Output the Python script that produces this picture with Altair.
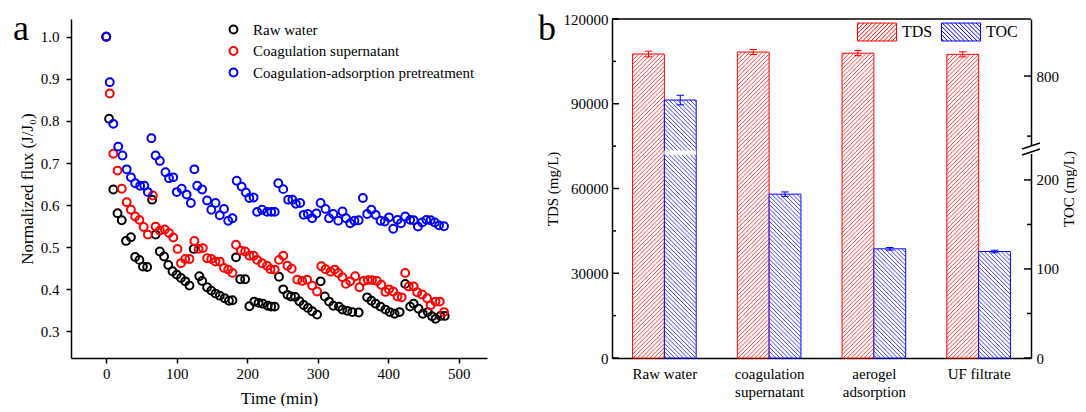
import math
import altair as alt
import pandas as pd

# ---------------- Panel a data ----------------
SERIES = ["Raw water", "Coagulation supernatant", "Coagulation-adsorption pretreatment"]
SERIES_COLORS = ["black", "red", "blue"]

RAW_T = [0, 4, 10, 16, 22, 28, 35, 41, 47, 52, 58, 65, 70, 76, 82, 88, 94, 100, 106, 112,
         118, 124, 132, 136, 143, 149, 155, 161, 168, 174, 179, 184, 190, 197, 203, 210, 216, 222, 229, 234,
         239, 245, 251, 257, 262, 268, 274, 280, 286, 292, 299, 304, 310, 316, 322, 330, 335, 342, 349, 358,
         370, 376, 382, 389, 396, 402, 409, 416, 424, 431, 436, 443, 449, 456, 462, 467, 474, 480]
RAW_V = [1.0, 0.805, 0.637, 0.581, 0.564, 0.515, 0.524, 0.477, 0.470, 0.454,
         0.453, 0.613, 0.530, 0.490, 0.478, 0.458, 0.443, 0.435, 0.427, 0.419,
         0.409, 0.496, 0.431, 0.420, 0.405, 0.397, 0.390, 0.385, 0.379, 0.373,
         0.374, 0.476, 0.424, 0.424, 0.360, 0.371, 0.368, 0.366, 0.361, 0.359,
         0.359, 0.430, 0.400, 0.387, 0.383, 0.382, 0.372, 0.363, 0.356, 0.348,
         0.340, 0.419, 0.383, 0.371, 0.361, 0.359, 0.352, 0.349, 0.346, 0.345,
         0.381, 0.373, 0.366, 0.359, 0.352, 0.346, 0.342, 0.346, 0.413, 0.359,
         0.366, 0.354, 0.342, 0.346, 0.336, 0.330, 0.337, 0.337]

COAG_T = [0, 5, 10, 16, 22, 29, 35, 41, 47, 53, 59, 66, 70, 76, 83, 89, 95, 101, 106, 112,
          118, 125, 131, 137, 143, 149, 155, 161, 167, 173, 179, 184, 191, 197, 203, 209, 214, 221, 228, 233,
          239, 245, 251, 257, 263, 271, 278, 285, 292, 299, 305, 311, 318, 324, 329, 335, 340, 346, 353, 359,
          365, 371, 377, 384, 390, 396, 401, 407, 413, 419, 424, 429, 436, 441, 448, 455, 460, 467, 473, 479]
COAG_V = [1.0, 0.865, 0.722, 0.682, 0.639, 0.607, 0.589, 0.573, 0.565, 0.548,
          0.530, 0.623, 0.549, 0.540, 0.542, 0.534, 0.523, 0.496, 0.462, 0.472,
          0.472, 0.515, 0.496, 0.498, 0.474, 0.472, 0.466, 0.466, 0.451, 0.447,
          0.439, 0.506, 0.492, 0.490, 0.480, 0.480, 0.470, 0.462, 0.456, 0.448,
          0.447, 0.470, 0.480, 0.456, 0.449, 0.423, 0.420, 0.423, 0.409, 0.395,
          0.455, 0.448, 0.442, 0.447, 0.439, 0.429, 0.413, 0.419, 0.431, 0.405,
          0.420, 0.422, 0.422, 0.420, 0.411, 0.394, 0.400, 0.395, 0.383, 0.381,
          0.439, 0.407, 0.407, 0.393, 0.388, 0.379, 0.362, 0.371, 0.371, 0.346]

ADS_T = [0, 5, 10, 17, 23, 29, 35, 41, 48, 54, 59, 64, 70, 76, 84, 89, 95, 100, 107, 114,
         120, 125, 129, 136, 143, 149, 155, 161, 167, 173, 179, 185, 192, 198, 203, 209, 214, 221, 228, 234,
         239, 244, 251, 258, 264, 269, 275, 280, 286, 292, 298, 304, 311, 316, 322, 329, 335, 340, 346, 352,
         358, 364, 370, 376, 382, 389, 395, 401, 407, 413, 418, 424, 431, 436, 442, 448, 454, 460, 466, 472, 479]
ADS_V = [1.0, 0.892, 0.793, 0.739, 0.718, 0.685, 0.666, 0.652, 0.646, 0.646,
         0.631, 0.759, 0.718, 0.705, 0.678, 0.664, 0.666, 0.631, 0.639, 0.625,
         0.605, 0.685, 0.646, 0.637, 0.611, 0.589, 0.605, 0.576, 0.591, 0.563,
         0.569, 0.658, 0.644, 0.630, 0.617, 0.618, 0.584, 0.589, 0.584, 0.584,
         0.584, 0.652, 0.638, 0.613, 0.613, 0.603, 0.605, 0.577, 0.579, 0.569,
         0.580, 0.605, 0.591, 0.569, 0.579, 0.563, 0.585, 0.569, 0.557, 0.563,
         0.564, 0.617, 0.579, 0.589, 0.577, 0.563, 0.561, 0.571, 0.544, 0.565,
         0.557, 0.573, 0.565, 0.564, 0.549, 0.559, 0.565, 0.564, 0.559, 0.552, 0.550]

FLUX_XTICKS = [0, 100, 200, 300, 400, 500]
FLUX_YTICKS = [0.3, 0.4, 0.5, 0.6, 0.7, 0.8, 0.9, 1.0]

# ---------------- Panel b data ----------------
CATS = ["Raw water", "coagulation\nsupernatant", "aerogel\nadsorption", "UF filtrate"]
TDS = [107600, 108300, 107900, 107500]
TDS_ERR = [1000, 900, 900, 900]
TOC = [760, 184, 122.6, 119.6]
TOC_ERR = [8, 2.5, 1.5, 1.5]
TDS_TICKS = [0, 30000, 60000, 90000, 120000]
TDS_MINOR = [15000, 45000, 75000, 105000]
TOC_TICKS = [0, 100, 200, 800]
TOC_MINOR = [50, 150, 700]
TOC_DOMAIN = [0, 228, 676, 895]      # broken TOC axis: 0-228 | 676-895
BREAK = [228, 676]

FONT = "Liberation Serif"
WL, HL = 416, 339
WR, HR = 419, 339
TOC_RANGE = [HR, 136, 131.5, 0]
SUB_PAD = 0.647
BWF = 1 / (2 + 2 * SUB_PAD)          # bar width as a fraction of a category slot
TDS_OFF = SUB_PAD * BWF              # TDS bar starts here inside its slot
TOC_OFF = 0.5                        # TOC bar starts at the slot centre
BAND = WR / 4
HATCH = 4.2                          # hatch spacing (px)


def toc_px(v):
    for j in range(len(TOC_DOMAIN) - 1):
        d0, d1 = TOC_DOMAIN[j], TOC_DOMAIN[j + 1]
        if d0 <= v <= d1:
            r0, r1 = TOC_RANGE[j], TOC_RANGE[j + 1]
            return r0 + (v - d0) / (d1 - d0) * (r1 - r0)
    return 0


def hatch_lines(X0, X1, Y0, Y1, rising, p=HATCH):
    out = []
    if rising:
        cmin, cmax = Y0 - X1, Y1 - X0
    else:
        cmin, cmax = Y0 + X0, Y1 + X1
    m = math.ceil(cmin / p)
    while m * p <= cmax:
        c = m * p
        if rising:
            xa, xb = max(X0, Y0 - c), min(X1, Y1 - c)
            if xb - xa > 0.2:
                out.append((xa, xa + c, xb, xb + c))
        else:
            xa, xb = max(X0, c - Y1), min(X1, c - Y0)
            if xb - xa > 0.2:
                out.append((xa, c - xa, xb, c - xb))
        m += 1
    return out


def legend_path(rising):
    a = 0.46
    parts = ["M-1,-0.46L1,-0.46L1,0.46L-1,0.46Z"]
    step = 0.215
    xb = -1 - 2 * a + step / 2
    while xb < 1:
        s0 = max(0, -1 - xb)
        s1 = min(2 * a, 1 - xb)
        if s1 > s0:
            if rising:
                p0, p1 = (xb + s0, a - s0), (xb + s1, a - s1)
            else:
                p0, p1 = (xb + s0, -a + s0), (xb + s1, -a + s1)
            parts.append(f"M{p0[0]:.3f},{p0[1]:.3f}L{p1[0]:.3f},{p1[1]:.3f}")
        xb += step
    return "".join(parts)


# ---------------- Panel a ----------------
rows = []
for name, ts, vs in [(SERIES[0], RAW_T, RAW_V), (SERIES[1], COAG_T, COAG_V), (SERIES[2], ADS_T, ADS_V)]:
    for t, v in zip(ts, vs):
        rows.append({"series": name, "t": t, "v": v})
flux_df = pd.DataFrame(rows)

xa = alt.Axis(values=FLUX_XTICKS, title="Time (min)", tickSize=5, tickColor="black", tickWidth=1.5,
              domainColor="black", domainWidth=1.5, labelFont=FONT, labelFontSize=15, labelColor="black",
              titleFont=FONT, titleFontSize=17, titleFontWeight="normal", titleColor="black",
              labelPadding=3, titlePadding=9, grid=False)
ya = alt.Axis(values=FLUX_YTICKS, format=".1f", title="Normalized flux (J/J\u2080)", tickSize=5,
              tickColor="black", tickWidth=1.5, domainColor="black", domainWidth=1.5, labelFont=FONT,
              labelFontSize=15, labelColor="black", titleFont=FONT, titleFontSize=17,
              titleFontWeight="normal", titleColor="black", labelPadding=7, titlePadding=4, grid=False)

pts = alt.Chart(flux_df).mark_point(size=62, strokeWidth=2, filled=False, opacity=1).encode(
    x=alt.X("t:Q", scale=alt.Scale(domain=[-50, 540], nice=False, zero=False), axis=xa),
    y=alt.Y("v:Q", scale=alt.Scale(domain=[0.237, 1.042], nice=False, zero=False), axis=ya),
    color=alt.Color("series:N", scale=alt.Scale(domain=SERIES, range=SERIES_COLORS),
                    legend=alt.Legend(title=None, orient="none", legendX=155, legendY=3,
                                      direction="vertical", symbolType="circle", symbolSize=62,
                                      symbolStrokeWidth=2, labelFont=FONT, labelFontSize=15,
                                      labelColor="black", labelLimit=0, labelOffset=12, rowPadding=4.5,
                                      padding=0)),
)
letter_a = alt.Chart(pd.DataFrame({"s": ["a"]})).mark_text(
    font=FONT, fontSize=36, align="center", baseline="middle", color="black").encode(
    text="s:N", x=alt.value(-50), y=alt.value(10))
left = alt.layer(pts, letter_a).properties(width=WL, height=HL)

# ---------------- Panel b ----------------
tds_df = pd.DataFrame({"i": range(4), "value": TDS, "err": TDS_ERR, "base": 0})
tds_df["x0"] = tds_df["i"] + TDS_OFF
tds_df["x1"] = tds_df["x0"] + BWF
toc_df = pd.DataFrame({"i": range(4), "value": TOC, "err": TOC_ERR, "base": 0})
toc_df["x0"] = toc_df["i"] + TOC_OFF
toc_df["x1"] = toc_df["x0"] + BWF

# hatch segments, built from the bar values (in data units)
th = []
for k in range(4):
    X0 = (k + TDS_OFF) * BAND
    for (xa_, ya_, xb_, yb_) in hatch_lines(X0, X0 + BWF * BAND, 0, TDS[k] * HR / 120000, True):
        th.append({"x": xa_ / BAND, "y": ya_ * 120000 / HR, "x2": xb_ / BAND, "y2": yb_ * 120000 / HR})
tds_hatch_df = pd.DataFrame(th)

lo_top = HR - TOC_RANGE[1]          # px height of the lower segment
up_bot = HR - TOC_RANGE[2]          # px height where the upper segment starts


def toc_val(ypx):
    if ypx <= lo_top:
        return ypx / lo_top * TOC_DOMAIN[1]
    return TOC_DOMAIN[2] + (ypx - up_bot) / (HR - up_bot) * (TOC_DOMAIN[3] - TOC_DOMAIN[2])


oh = []
for k in range(4):
    X0 = (k + TOC_OFF) * BAND
    top = HR - toc_px(TOC[k])
    segs = [(0, min(top, lo_top))] + ([(up_bot, top)] if top > up_bot else [])
    for (s0, s1) in segs:
        for (xa_, ya_, xb_, yb_) in hatch_lines(X0, X0 + BWF * BAND, s0, s1, False):
            oh.append({"x": xa_ / BAND, "y": toc_val(ya_), "x2": xb_ / BAND, "y2": toc_val(yb_)})
toc_hatch_df = pd.DataFrame(oh)

label_expr = ("[['Raw water'], ['coagulation', 'supernatant'], ['aerogel', 'adsorption'], "
              "['UF filtrate']][floor(datum.value)]")
x_axis = alt.Axis(title=None, values=[0.5, 1.5, 2.5, 3.5], labelExpr=label_expr, tickSize=0,
                  domainColor="black", domainWidth=1.5, labelFont=FONT, labelFontSize=15,
                  labelColor="black", labelPadding=8, labelAngle=0, labelLineHeight=18, grid=False)
x_scale = alt.Scale(domain=[0, 4], nice=False, zero=False)

tds_scale = alt.Scale(domain=[0, 120000], nice=False, zero=False)
tds_axis = alt.Axis(values=TDS_TICKS, format="d", title="TDS (mg/L)", tickSize=0, domainColor="black",
                    domainWidth=1.5, labelFont=FONT, labelFontSize=15, labelColor="black", labelPadding=4,
                    titleFont=FONT, titleFontSize=15, titleFontWeight="normal", titleColor="black",
                    titlePadding=3, grid=False)
toc_scale = alt.Scale(domain=TOC_DOMAIN, range=TOC_RANGE, nice=False, zero=False)
toc_axis = alt.Axis(values=TOC_TICKS, format="d", title="TOC (mg/L)", orient="right", tickSize=0,
                    domainColor="black", domainWidth=1.5, labelFont=FONT, labelFontSize=15,
                    labelColor="black", labelPadding=5, titleFont=FONT, titleFontSize=15,
                    titleFontWeight="normal", titleColor="black", titlePadding=3, titleAngle=270,
                    titleBaseline="top", grid=False)


def bars(df, scale, axis, color):
    return alt.Chart(df).mark_bar(fill="white", stroke=color, strokeWidth=1).encode(
        x=alt.X("x0:Q", scale=x_scale, axis=x_axis), x2="x1:Q",
        y=alt.Y("value:Q", scale=scale, axis=axis), y2="base:Q")


def hatch_layer(df, scale, axis, color):
    return alt.Chart(df).mark_rule(color=color, strokeWidth=0.9).encode(
        x=alt.X("x:Q", scale=x_scale, axis=x_axis), x2="x2:Q",
        y=alt.Y("y:Q", scale=scale, axis=axis), y2="y2:Q")


def err_layers(df, scale, axis, color):
    base = alt.Chart(df).transform_calculate(
        lo="datum.value - datum.err", hi="datum.value + datum.err",
        xc="(datum.x0 + datum.x1) / 2", ca="(datum.x0 + datum.x1) / 2 - 0.036",
        cb="(datum.x0 + datum.x1) / 2 + 0.036")
    r = base.mark_rule(color=color, strokeWidth=1).encode(
        x=alt.X("xc:Q", scale=x_scale, axis=x_axis), y=alt.Y("lo:Q", scale=scale, axis=axis), y2="hi:Q")
    c1 = base.mark_rule(color=color, strokeWidth=1).encode(
        x=alt.X("ca:Q", scale=x_scale, axis=x_axis), x2="cb:Q", y=alt.Y("lo:Q", scale=scale, axis=axis))
    c2 = base.mark_rule(color=color, strokeWidth=1).encode(
        x=alt.X("ca:Q", scale=x_scale, axis=x_axis), x2="cb:Q", y=alt.Y("hi:Q", scale=scale, axis=axis))
    return [r, c1, c2]


gap_df = pd.DataFrame({"x0": [TOC_OFF], "x1": [TOC_OFF + BWF], "lo": [BREAK[0]], "hi": [BREAK[1]]})
gap = alt.Chart(gap_df).mark_rect(fill="white").encode(
    x=alt.X("x0:Q", scale=x_scale, axis=x_axis), x2="x1:Q",
    y=alt.Y("lo:Q", scale=toc_scale, axis=toc_axis), y2="hi:Q")

tds_ticks = alt.Chart(pd.DataFrame({"v": TDS_TICKS})).mark_rule(color="black", strokeWidth=1.5).encode(
    x=alt.value(0), x2=alt.value(7), y=alt.Y("v:Q", scale=tds_scale, axis=tds_axis))
tds_minor = alt.Chart(pd.DataFrame({"v": TDS_MINOR})).mark_rule(color="black", strokeWidth=1.5).encode(
    x=alt.value(0), x2=alt.value(4), y=alt.Y("v:Q", scale=tds_scale, axis=tds_axis))
toc_ticks = alt.Chart(pd.DataFrame({"v": TOC_TICKS})).mark_rule(color="black", strokeWidth=1.5).encode(
    x=alt.value(WR - 7), x2=alt.value(WR), y=alt.Y("v:Q", scale=toc_scale, axis=toc_axis))
toc_minor = alt.Chart(pd.DataFrame({"v": TOC_MINOR})).mark_rule(color="black", strokeWidth=1.5).encode(
    x=alt.value(WR - 4), x2=alt.value(WR), y=alt.Y("v:Q", scale=toc_scale, axis=toc_axis))

tds_group = alt.layer(bars(tds_df, tds_scale, tds_axis, "red"),
                      hatch_layer(tds_hatch_df, tds_scale, tds_axis, "#ff2a2a"),
                      *err_layers(tds_df, tds_scale, tds_axis, "red"), tds_ticks, tds_minor)
toc_group = alt.layer(bars(toc_df, toc_scale, toc_axis, "blue"), gap,
                      hatch_layer(toc_hatch_df, toc_scale, toc_axis, "#2a2aff"),
                      *err_layers(toc_df, toc_scale, toc_axis, "blue"), toc_ticks, toc_minor)

one = pd.DataFrame({"s": ["b"]})
top_rule = alt.Chart(one).mark_rule(color="black", strokeWidth=1.5).encode(
    x=alt.value(0), x2=alt.value(WR), y=alt.value(0))
break_white = alt.Chart(one).mark_rect(fill="white").encode(
    x=alt.value(WR - 3), x2=alt.value(WR + 3), y=alt.value(127), y2=alt.value(135))
break_l1 = alt.Chart(one).mark_rule(color="black", strokeWidth=1.5).encode(
    x=alt.value(WR - 9), x2=alt.value(WR + 9), y=alt.value(130), y2=alt.value(124))
break_l2 = alt.Chart(one).mark_rule(color="black", strokeWidth=1.5).encode(
    x=alt.value(WR - 9), x2=alt.value(WR + 9), y=alt.value(136), y2=alt.value(130))
letter_b = alt.Chart(one).mark_text(font=FONT, fontSize=36, align="center", baseline="middle",
                                    color="black").encode(text="s:N", x=alt.value(-65), y=alt.value(10))

leg = alt.Legend(title=None, orient="none", legendX=245, legendY=-7, direction="horizontal",
                 symbolSize=1521, symbolStrokeWidth=1, symbolOpacity=1, labelFont=FONT,
                 labelFontSize=16, labelColor="black", labelOffset=5, columnPadding=6, padding=0)
legend_pts = alt.Chart(pd.DataFrame({"kind": ["TDS", "TOC"]})).mark_point(opacity=0, filled=False).encode(
    shape=alt.Shape("kind:N", scale=alt.Scale(domain=["TDS", "TOC"],
                                              range=[legend_path(True), legend_path(False)]), legend=leg),
    color=alt.Color("kind:N", scale=alt.Scale(domain=["TDS", "TOC"], range=["red", "blue"]), legend=leg),
)

right = alt.layer(
    tds_group, toc_group,
    top_rule, break_white, break_l1, break_l2, letter_b, legend_pts,
).resolve_scale(y="independent").properties(width=WR, height=HR)

chart = alt.hconcat(left, right, spacing=125, bounds="flush").resolve_scale(
    color="independent", shape="independent"
).configure(
    padding={"left": 5, "top": 3, "right": 0, "bottom": 0}, background="white"
).configure_view(stroke=None)

chart.save("out.html", embed_options={"renderer": "svg", "actions": False})
